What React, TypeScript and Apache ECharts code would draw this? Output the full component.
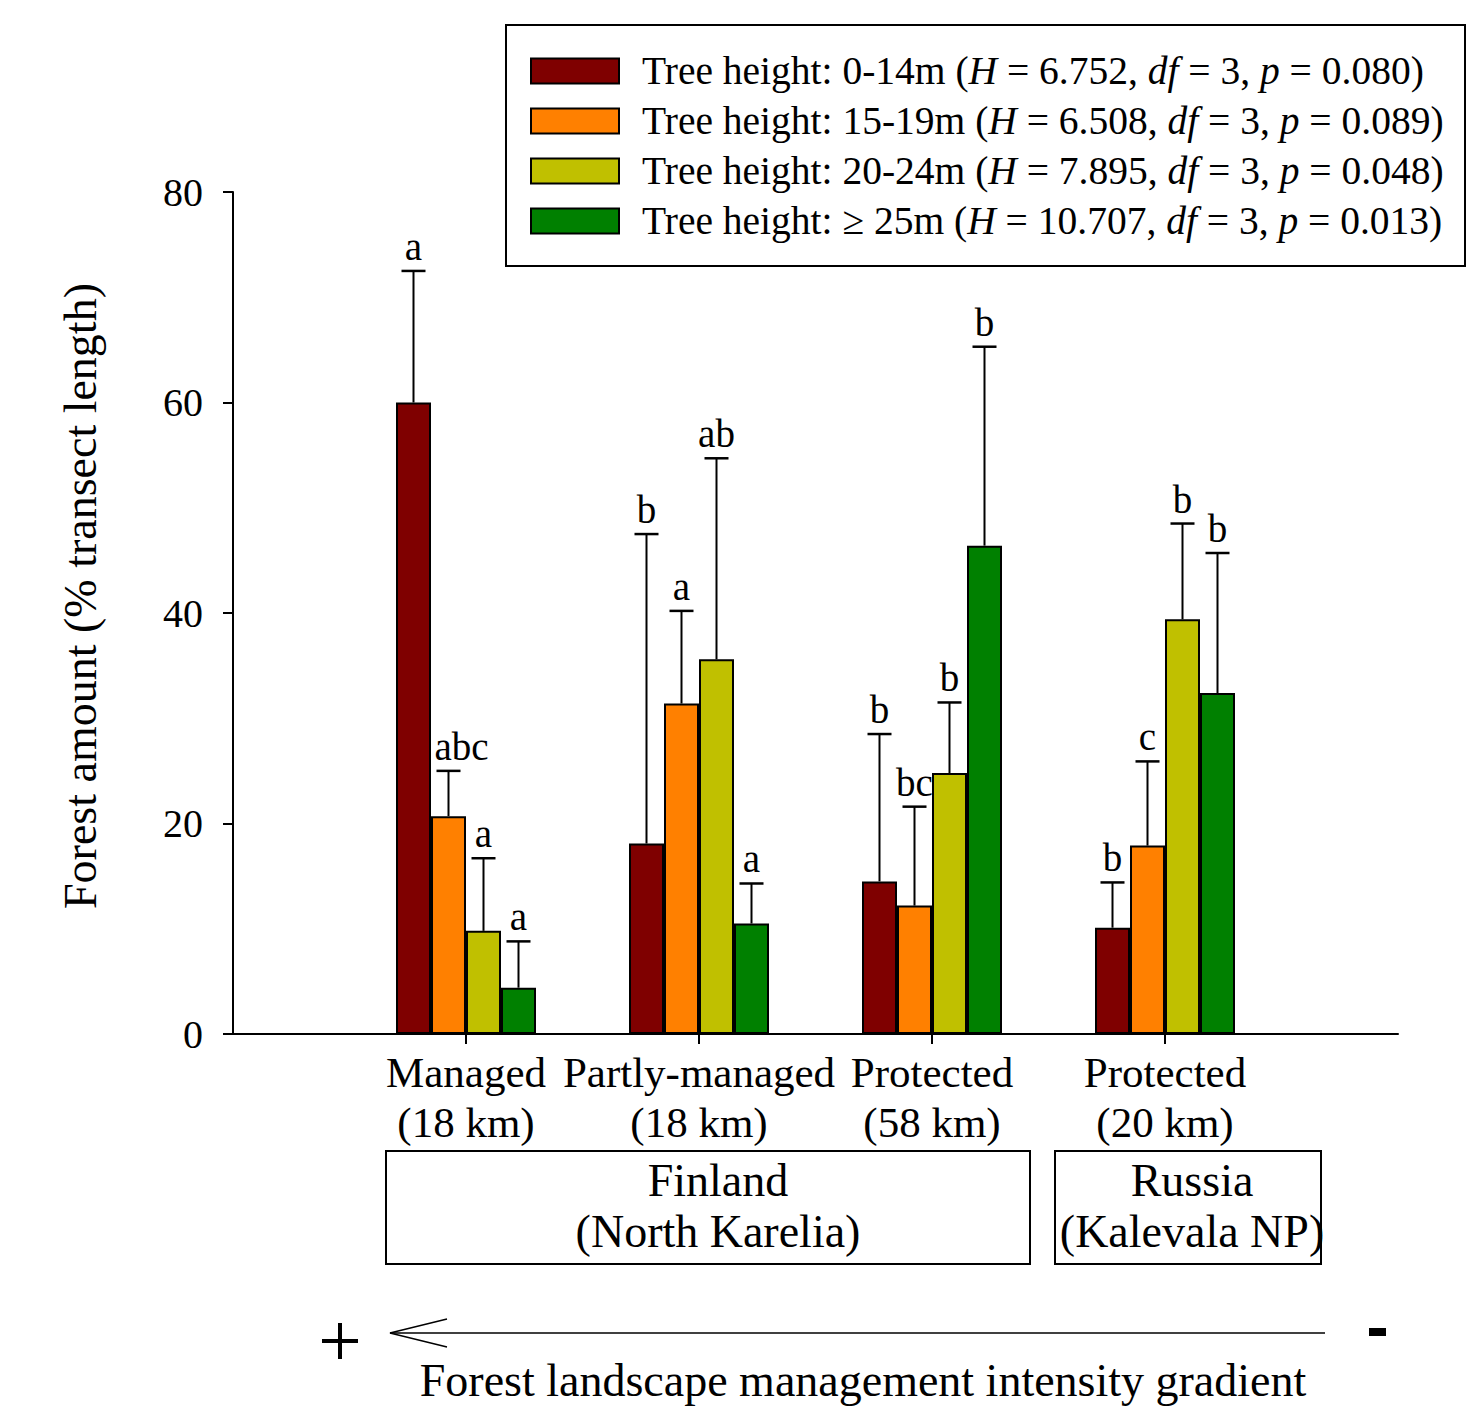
import React, { useEffect, useRef } from "react";
import * as echarts from "echarts";

const FONT = "'Liberation Serif', 'Times New Roman', serif";

const groups = ["Managed\n(18 km)", "Partly-managed\n(18 km)", "Protected\n(58 km)", "Protected\n(20 km)"];
const axisCategories = ["", ...groups, ""];

const seriesNames = [
  "Tree height: 0-14m",
  "Tree height: 15-19m",
  "Tree height: 20-24m",
  "Tree height: \u2265 25m",
];
const hValues = ["6.752", "6.508", "7.895", "10.707"];
const dfValues = ["3", "3", "3", "3"];
const pValues = ["0.080", "0.089", "0.048", "0.013"];
const colors = ["#7f0000", "#ff8000", "#c0c000", "#008000"];

const mean0_14 = [60.0, 18.1, 14.5, 10.1];
const mean15_19 = [20.7, 31.4, 12.2, 17.9];
const mean20_24 = [9.8, 35.6, 24.8, 39.4];
const mean25 = [4.4, 10.5, 46.4, 32.4];

const upper0_14 = [72.5, 47.5, 28.5, 14.4];
const upper15_19 = [25.0, 40.2, 21.6, 25.9];
const upper20_24 = [16.7, 54.7, 31.5, 48.5];
const upper25 = [8.8, 14.3, 65.3, 45.7];

const letters0_14 = ["a", "b", "b", "b"];
const letters15_19 = ["abc", "a", "bc", "c"];
const letters20_24 = ["a", "ab", "b", "b"];
const letters25 = ["a", "a", "b", "b"];

const yTicks = [0, 20, 40, 60, 80];
const yTitle = "Forest amount (% transect length)";

const means = [mean0_14, mean15_19, mean20_24, mean25];
const uppers = [upper0_14, upper15_19, upper20_24, upper25];
const letterSets = [letters0_14, letters15_19, letters20_24, letters25];

const BAR_W = 35;

export default function App() {
  const ref = useRef<HTMLDivElement>(null);
  useEffect(() => {
    document.body.style.margin = "0";
    if (!ref.current) return;
    const chart = echarts.init(ref.current, null, { renderer: "svg" });

    const barSeries = seriesNames.map((name, s) => ({
      name,
      type: "bar",
      barWidth: BAR_W,
      barGap: "0%",
      itemStyle: { color: colors[s], borderColor: "#000", borderWidth: 2 },
      data: means[s].map((v, i) => [i + 1, v]),
      z: 2,
    }));

    const errSeries = seriesNames.map((name, s) => ({
      name: "err" + s,
      type: "custom",
      z: 5,
      data: means[s].map((v, i) => [i + 1, v, uppers[s][i]]),
      renderItem: (params: any, api: any) => {
        const cat = api.value(0);
        const base = api.coord([cat, api.value(1)]);
        const top = api.coord([cat, api.value(2)]);
        const x = base[0] + (s - 1.5) * BAR_W;
        const letter = letterSets[s][params.dataIndex];
        const lx = letter.length >= 3 ? x + 13 : x;
        return {
          type: "group",
          children: [
            { type: "line", shape: { x1: x, y1: base[1], x2: x, y2: top[1] }, style: { stroke: "#000", lineWidth: 2 } },
            { type: "line", shape: { x1: x - 12, y1: top[1], x2: x + 12, y2: top[1] }, style: { stroke: "#000", lineWidth: 2.5 } },
            {
              type: "text",
              x: lx,
              y: top[1] - 5,
              style: {
                text: letter,
                fill: "#000",
                fontSize: 39,
                fontFamily: FONT,
                align: "center",
                verticalAlign: "bottom",
              },
            },
          ],
        };
      },
    }));

    const legendText: Record<string, string> = {};
    seriesNames.forEach((n, i) => {
      legendText[n] = `${n} ({i|H} = ${hValues[i]}, {i|df} = ${dfValues[i]}, {i|p} = ${pValues[i]})`;
    });

    const option: any = {
      animation: false,
      backgroundColor: "#fff",
      textStyle: { fontFamily: FONT, color: "#000" },
      grid: { left: 233, right: 83, top: 192, bottom: 372, containLabel: false },
      legend: {
        data: seriesNames,
        orient: "vertical",
        left: 530,
        top: 51,
        padding: 0,
        itemWidth: 88,
        itemHeight: 25,
        itemGap: 10,
        icon: "rect",
        selectedMode: false,
        itemStyle: { borderColor: "#000", borderWidth: 2 },
        formatter: (name: string) => legendText[name],
        textStyle: {
          fontFamily: FONT,
          fontSize: 39.5,
          color: "#000",
          padding: [0, 0, 0, 18],
          rich: {
            i: { fontFamily: FONT, fontSize: 39.5, fontStyle: "italic", color: "#000" },
          },
        },
      },
      xAxis: {
        type: "category",
        data: axisCategories,
        boundaryGap: false,
        axisLine: { show: true, lineStyle: { color: "#000", width: 2 } },
        axisTick: {
          show: true,
          length: 10,
          interval: (i: number) => i >= 1 && i <= groups.length,
          lineStyle: { color: "#000", width: 2 },
        },
        axisLabel: {
          interval: 0,
          fontFamily: FONT,
          fontSize: 43,
          lineHeight: 50,
          color: "#000",
          margin: 13,
        },
        splitLine: { show: false },
      },
      yAxis: {
        type: "value",
        min: 0,
        max: 80,
        interval: 20,
        axisLine: { show: true, lineStyle: { color: "#000", width: 2 } },
        axisTick: { show: true, length: 10, inside: false, lineStyle: { color: "#000", width: 2 } },
        axisLabel: {
          fontFamily: FONT,
          fontSize: 40,
          color: "#000",
          margin: 30,
          formatter: (v: number) => (yTicks.includes(v) ? String(v) : ""),
        },
        splitLine: { show: false },
      },
      graphic: [
        {
          type: "text",
          x: 80,
          y: 596,
          rotation: Math.PI / 2,
          style: { text: yTitle, fontFamily: FONT, fontSize: 46, fill: "#000", align: "center", verticalAlign: "middle" },
        },
        { type: "rect", shape: { x: 506, y: 25, width: 959, height: 241 }, style: { fill: "none", stroke: "#000", lineWidth: 2 } },
        { type: "rect", shape: { x: 386, y: 1151, width: 644, height: 113 }, style: { fill: "none", stroke: "#000", lineWidth: 2 } },
        {
          type: "text",
          x: 718,
          y: 1206,
          style: { text: "Finland\n(North Karelia)", fontFamily: FONT, fontSize: 46, lineHeight: 51, fill: "#000", align: "center", verticalAlign: "middle" },
        },
        { type: "rect", shape: { x: 1055, y: 1151, width: 266, height: 113 }, style: { fill: "none", stroke: "#000", lineWidth: 2 } },
        {
          type: "text",
          x: 1192,
          y: 1206,
          style: { text: "Russia\n(Kalevala NP)", fontFamily: FONT, fontSize: 46, lineHeight: 51, fill: "#000", align: "center", verticalAlign: "middle" },
        },
        { type: "line", shape: { x1: 390, y1: 1333, x2: 1325, y2: 1333 }, style: { stroke: "#000", lineWidth: 1.5 } },
        { type: "polyline", shape: { points: [[447, 1319], [390, 1333], [447, 1347]] }, style: { stroke: "#000", lineWidth: 1.5, fill: "none" } },
        { type: "line", shape: { x1: 322, y1: 1341, x2: 358, y2: 1341 }, style: { stroke: "#000", lineWidth: 4 } },
        { type: "line", shape: { x1: 340, y1: 1323, x2: 340, y2: 1359 }, style: { stroke: "#000", lineWidth: 4 } },
        { type: "rect", shape: { x: 1369, y: 1328, width: 17, height: 8 }, style: { fill: "#000" } },
        {
          type: "text",
          x: 863,
          y: 1380,
          style: { text: "Forest landscape management intensity gradient", fontFamily: FONT, fontSize: 46, fill: "#000", align: "center", verticalAlign: "middle" },
        },
      ],
      series: [...barSeries, ...errSeries],
    };

    chart.setOption(option);
    return () => chart.dispose();
  }, []);

  return <div ref={ref} style={{ width: 1481, height: 1406 }} />;
}
